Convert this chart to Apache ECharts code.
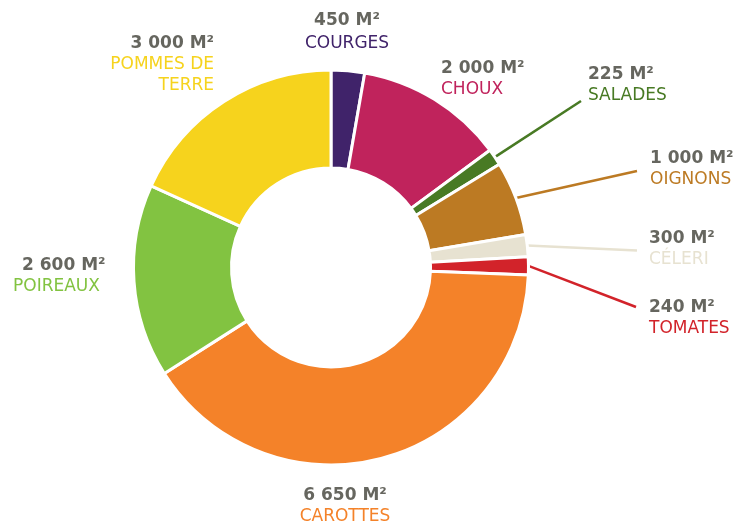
<!DOCTYPE html>
<html><head><meta charset="utf-8">
<script src="https://cdn.jsdelivr.net/npm/echarts@6/dist/echarts.min.js"></script>
<style>html,body{margin:0;padding:0;background:#fff}#c{width:739px;height:522px}</style>
</head><body><div id="c"></div>
<script>
// ---- data ----
const names = ['COURGES','CHOUX','SALADES','OIGNONS','CÉLERI','TOMATES','CAROTTES','POIREAUX','POMMES DE\nTERRE'];
const values = [450,2000,225,1000,300,240,6650,2600,3000];
const colors = ['#40236a','#c0235c','#487a24','#bc7a23','#e7e2d1','#d2232a','#f48229','#82c341','#f6d31d'];
const unit = 'M²';

// ---- label placement (layout config) ----
const labelPlaces = [
  {x:347, y:9,   align:'center', lh:24},
  {x:441, y:58,  align:'left'},
  {x:588, y:64,  align:'left', line:[581,101]},
  {x:650, y:148, align:'left', line:[637,171]},
  {x:649, y:228, align:'left', line:[637,250.5]},
  {x:649, y:297, align:'left', line:[636,307]},
  {x:345, y:485, align:'center'},
  {x:13,  y:255, align:'left', pad:9},
  {x:214, y:33,  align:'right'}
];

const fmt = v => String(v).replace(/\B(?=(\d{3})+(?!\d))/g, ' ');
const grey = '#66665f';

const data = values.map((v, i) => {
  const s = labelPlaces[i];
  const lh = s.lh || 21;
  return {
    name: names[i],
    value: v,
    itemStyle: {color: colors[i]},
    label: {
      rich: {
        v: {fontFamily:'DejaVu Sans', fontWeight:'bold', fontSize:17, color:grey, lineHeight:lh, align:s.align, padding:[0,0,0,s.pad||0]},
        n: {fontFamily:'DejaVu Sans', fontWeight:'normal', fontSize:17, color:colors[i], lineHeight:21, align:s.align}
      }
    },
    labelLine: {show: !!s.line, lineStyle: {color: colors[i], width: 2.5}}
  };
});

const chart = echarts.init(document.getElementById('c'), null, {renderer:'canvas'});
chart.setOption({
  animation: false,
  series: [{
    type: 'pie',
    center: [331, 267.5],
    radius: [99.5, 197.5],
    startAngle: 90,
    clockwise: true,
    avoidLabelOverlap: false,
    itemStyle: {borderColor:'#fff', borderWidth:3},
    label: {
      show: true,
      position: 'outside',
      formatter: p => '{v|' + fmt(p.value) + ' ' + unit + '}\n' +
        p.name.split('\n').map(t => '{n|' + t + '}').join('\n')
    },
    labelLine: {length: 20, length2: 0, smooth: false},
    labelLayout: function (p) {
      const s = labelPlaces[p.dataIndex];
      const o = {x: s.x, y: s.y, align: s.align, verticalAlign: 'top'};
      if (s.line && p.labelLinePoints) o.labelLinePoints = [p.labelLinePoints[0], s.line];
      return o;
    },
    emphasis: {disabled: true},
    data: data
  }]
});
</script></body></html>
